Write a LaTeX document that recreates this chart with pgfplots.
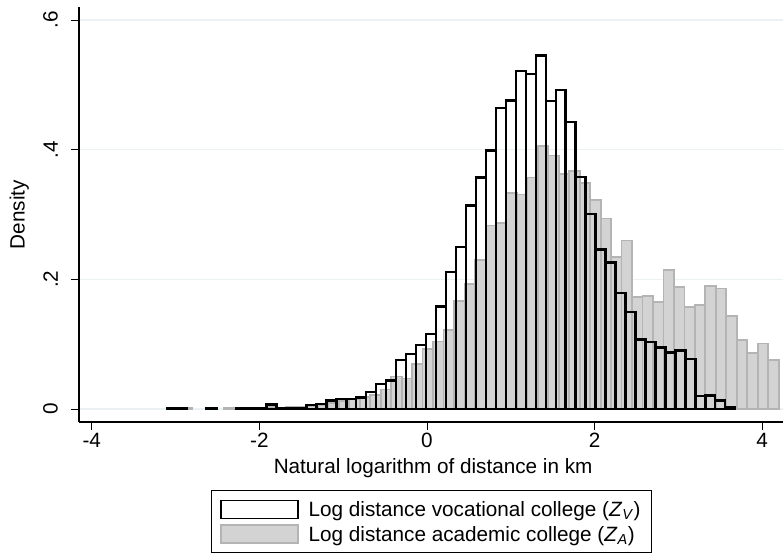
\documentclass[border=0pt]{standalone}
\usepackage{pgfplots}
\pgfplotsset{compat=1.18}
\usepackage{fontspec}
\setmainfont{Liberation Sans}
\definecolor{gridc}{RGB}{234,242,243}
\definecolor{afill}{RGB}{211,211,211}
\definecolor{aline}{RGB}{180,180,180}
\begin{document}
\begin{tikzpicture}[x=1bp,y=1bp,font=\fontsize{20.7bp}{24bp}\selectfont]
\begin{axis}[
  at={(0,0)}, anchor=south west,
  scale only axis, width=704bp, height=415bp,
  xmin=-4.1527, xmax=4.2482, ymin=-0.02005, ymax=0.6201,
  axis x line*=bottom, axis y line*=left,
  axis line style={line width=1.3bp, black},
  tick align=outside, major tick length=8bp,
  tick style={line width=1bp, black},
  xtick={-4,-2,0,2,4}, xticklabels={-4,-2,0,2,4},
  ytick={0,0.2,0.4,0.6}, yticklabels={0,.2,.4,.6},
  xticklabel style={inner sep=0pt, anchor=north},
  xticklabel shift=3bp,
  yticklabel style={rotate=90, anchor=south, inner sep=0pt},
  yticklabel shift=13bp,
  ymajorgrids, grid style={gridc, line width=1.2bp},
  xlabel={Natural logarithm of distance in km},
  ylabel={Density},
  xlabel style={at={(axis description cs:0.503,-0.1229)}, anchor=base, inner sep=0pt},
  ylabel style={at={(axis description cs:-0.0774,0.5)}, rotate=0, anchor=base, inner sep=0pt},
  legend image code/.code={\draw[#1] (0bp,-9bp) rectangle (77bp,9bp);},
  legend cell align=left,
  legend style={at={(axis description cs:0.1871,-0.1639)}, anchor=north west,
    draw=black, line width=1bp, inner xsep=9bp, inner ysep=9bp, row sep=5bp,
    nodes={text depth=0pt},
    /tikz/every odd column/.append style={column sep=8bp}},
]
\addlegendimage{draw=black, fill=white, line width=1.5bp}
\addlegendentry{Log distance vocational college (\textit{Z}\textsubscript{\textit{V}})}
\addlegendimage{draw=aline, fill=afill, line width=1.5bp}
\addlegendentry{Log distance academic college (\textit{Z}\textsubscript{\textit{A}})}

\addplot[ybar, bar width=0.125, bar shift=0pt, fill=afill, draw=aline, line width=1.8bp, forget plot] coordinates {
(-2.8655,0.002) (-2.3655,0.002) (-2.2405,0.001) (-2.1155,0.002) (-1.9905,0.002) (-1.8655,0.003) (-1.7405,0.002) (-1.6155,0.003) (-1.4905,0.003) (-1.3655,0.004) (-1.2405,0.006) (-1.1155,0.009) (-0.9905,0.012) (-0.8655,0.015) (-0.7405,0.018) (-0.6155,0.022) (-0.4905,0.030) (-0.3655,0.050) (-0.2405,0.047) (-0.1155,0.070) (0.0095,0.093) (0.1345,0.104) (0.2595,0.122) (0.3845,0.166) (0.5095,0.193) (0.6345,0.230) (0.7595,0.283) (0.8845,0.287) (1.0095,0.333) (1.1345,0.331) (1.2595,0.357) (1.3845,0.406) (1.5095,0.391) (1.6345,0.362) (1.7595,0.367) (1.8845,0.349) (2.0095,0.323) (2.1345,0.294) (2.2595,0.235) (2.3845,0.260) (2.5095,0.173) (2.6345,0.174) (2.7595,0.165) (2.8845,0.214) (3.0095,0.188) (3.1345,0.157) (3.2595,0.161) (3.3845,0.190) (3.5095,0.186) (3.6345,0.143) (3.7595,0.107) (3.8845,0.086) (4.0095,0.101) (4.1345,0.075)
};
\addplot[ybar, bar width=0.119, bar shift=0pt, fill=none, draw=black, line width=2.4bp, forget plot] coordinates {
(-3.0455,0.002) (-2.9265,0.002) (-2.5695,0.002) (-2.2125,0.002) (-2.0935,0.002) (-1.9745,0.002) (-1.8555,0.007) (-1.7365,0.002) (-1.6175,0.002) (-1.4985,0.002) (-1.3795,0.006) (-1.2605,0.008) (-1.1415,0.013) (-1.0225,0.015) (-0.9035,0.015) (-0.7845,0.018) (-0.6655,0.026) (-0.5465,0.039) (-0.4275,0.044) (-0.3085,0.076) (-0.1895,0.085) (-0.0705,0.099) (0.0485,0.116) (0.1675,0.158) (0.2865,0.211) (0.4055,0.250) (0.5245,0.314) (0.6435,0.357) (0.7625,0.399) (0.8815,0.464) (1.0005,0.476) (1.1195,0.521) (1.2385,0.517) (1.3575,0.545) (1.4765,0.475) (1.5955,0.492) (1.7145,0.443) (1.8335,0.358) (1.9525,0.301) (2.0715,0.246) (2.1905,0.226) (2.3095,0.179) (2.4285,0.150) (2.5475,0.107) (2.6665,0.103) (2.7855,0.095) (2.9045,0.087) (3.0235,0.090) (3.1425,0.077) (3.2615,0.020) (3.3805,0.021) (3.4995,0.013) (3.6185,0.003)
};
\end{axis}
\pgfresetboundingbox
\path[use as bounding box] (-79,-136) rectangle (704,422);
\end{tikzpicture}
\end{document}
